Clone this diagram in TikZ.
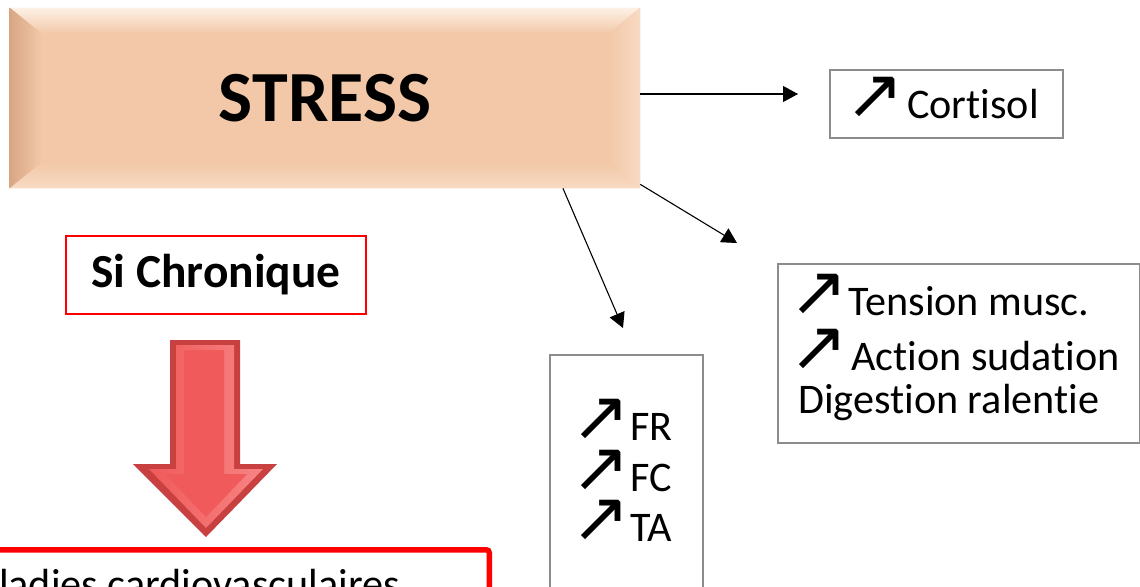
\documentclass[tikz,border=0pt]{standalone}
\usepackage{fontspec}
\setmainfont{Carlito}[Ligatures=NoCommon]
\newfontfamily\symfont{DejaVu Sans}
\usetikzlibrary{arrows.meta}
\definecolor{peach}{HTML}{F2C8A8}
\definecolor{peachlight}{HTML}{FDF1E6}
\definecolor{peachside}{HTML}{F8DAC3}
\definecolor{peachdark}{HTML}{D9A685}
\definecolor{boxgrey}{HTML}{8C8C8C}
\definecolor{arrowdark}{HTML}{C8403F}
\definecolor{arrowred}{HTML}{F05A5A}
\definecolor{arrowlight}{HTML}{F88484}
\newcommand\incr{\smash{\symfont\fontsize{40}{30}\selectfont\kern-0.12em↗\kern-0.1em}}
\tikzset{
  greybox/.style={draw=boxgrey, line width=0.04cm, align=left, inner sep=0},
  effect/.style={-{Triangle[length=0.3cm,width=0.32cm]}, line width=0.022cm},
}
\begin{document}
\begin{tikzpicture}[x=0.02cm,y=-0.02cm]
\useasboundingbox (0,0) rectangle (1140,586);
\clip (0,0) rectangle (1140,586);

% bevelled stress box
\node[fill=peach, minimum width=12.6cm, minimum height=3.6cm, inner sep=0] (stress) at (325,98) {};
\coordinate (inNW) at ([xshift=0.64cm,yshift=-0.52cm]stress.north west);
\coordinate (inNE) at ([xshift=-0.64cm,yshift=-0.52cm]stress.north east);
\coordinate (inSW) at ([xshift=0.64cm,yshift=0.52cm]stress.south west);
\coordinate (inSE) at ([xshift=-0.64cm,yshift=0.52cm]stress.south east);
\shade[top color=peachlight, bottom color=peach] (stress.north west) -- (stress.north east) -- (inNE) -- (inNW) -- cycle;
\shade[left color=peachdark, right color=peach] (stress.north west) -- (inNW) -- (inSW) -- (stress.south west) -- cycle;
\shade[left color=peach, right color=peachside] (stress.north east) -- (inNE) -- (inSE) -- (stress.south east) -- cycle;
\shade[top color=peach, bottom color=peachside] (stress.south west) -- (inSW) -- (inSE) -- (stress.south east) -- cycle;
\node[font=\bfseries\fontsize{41}{49}\selectfont] at (stress) {STRESS};

% effects
\node[greybox, minimum width=4.66cm, minimum height=1.36cm, font=\fontsize{24}{29}\selectfont] (cortisol) at (946.5,104) {\incr\ Cortisol};
\node[greybox, minimum width=7.24cm, minimum height=3.58cm, font=\fontsize{24}{24.5}\selectfont] (muscle) at (959,353.5)
  {\incr\,Tension musc.\\[7pt] \incr\ Action sudation\\ Digestion ralentie};
\node[greybox, minimum width=3.06cm, minimum height=4.9cm, font=\fontsize{24}{29}\selectfont] (cardio) at (626.5,477.5)
  {\incr\,FR\\ \incr\,FC\\ \incr\,TA};

\coordinate (tipA) at (798,94);
\coordinate (tipB) at (737,243);
\coordinate (tipC) at (623,328);
\draw[effect] (stress.east |- tipA) -- (tipA);
\draw[effect] ([yshift=0.08cm]stress.south east) -- (tipB);
\draw[effect] ([xshift=4.76cm]stress.south) -- (tipC);

% chronic branch
\node[draw=red, line width=0.8pt, minimum width=6cm, minimum height=1.56cm,
  font=\bfseries\fontsize{27}{32}\selectfont] (chronic) at (216,275) {Si Chronique};
\fill[arrowdark] (170,340) -- (240,340) -- (240,464) -- (277,464) -- (206,537) -- (133,464) -- (170,464) -- cycle;
\shade[left color=arrowred, right color=arrowlight] (176,345) -- (234,345) -- (234,469) -- (263,469) -- (206,528) -- (149,469) -- (176,469) -- cycle;
\fill[arrowred] (184,350) -- (224,350) -- (224,474) -- (247,474) -- (206,517) -- (165,474) -- (184,474) -- cycle;
\node[draw=red, line width=0.11cm, rounded corners=0.06cm, minimum width=12.72cm, minimum height=1.38cm,
  anchor=north east, font=\fontsize{24}{29}\selectfont] (disease) at (492,547) {Maladies cardiovasculaires};
\end{tikzpicture}
\end{document}
